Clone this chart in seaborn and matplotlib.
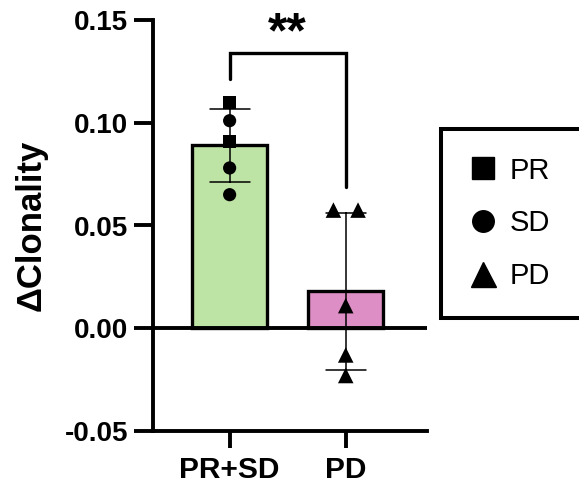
import matplotlib
matplotlib.use("Agg")
import matplotlib.pyplot as plt
from matplotlib.lines import Line2D
import seaborn as sns
import pandas as pd
import numpy as np

# ---- data ----
groups = ["PR+SD", "PD"]
pr_sd_values = [0.110, 0.101, 0.091, 0.078, 0.065]
pr_sd_response = ["PR", "SD", "PR", "SD", "SD"]
pd_values = [0.0575, 0.0575, 0.011, -0.013, -0.023]
pd_response = ["PD", "PD", "PD", "PD", "PD"]
legend_labels = ["PR", "SD", "PD"]
yticks = [-0.05, 0.00, 0.05, 0.10, 0.15]
sig_label = "**"

# ---- layout / style ----
bar_colors = ["#bde3a5", "#dd8ec4"]
marker_map = {"PR": "s", "SD": "o", "PD": "^"}
marker_area = {"PR": 85, "SD": 90, "PD": 125}
legend_msize = {"PR": 15.5, "SD": 15.5, "PD": 18}
jitter = [0, 0, 0, 0, 0, -0.106, 0.106, 0, 0, 0]

sns.set_theme(style="white")
plt.rcParams["font.family"] = ["Liberation Sans", "DejaVu Sans"]
plt.rcParams["axes.unicode_minus"] = False
for key in ["text.color", "axes.labelcolor", "xtick.color", "ytick.color"]:
    plt.rcParams[key] = "black"

df = pd.DataFrame({
    "group": [groups[0]] * len(pr_sd_values) + [groups[1]] * len(pd_values),
    "value": pr_sd_values + pd_values,
    "response": pr_sd_response + pd_response,
})
df["xpos"] = df["group"].map({g: i for i, g in enumerate(groups)}) + np.array(jitter)

fig = plt.figure(figsize=(5.79, 4.83), dpi=100)
ax = fig.add_axes([153 / 579, 52 / 483, 274 / 579, 411 / 483])

sns.barplot(data=df, x="group", y="value", hue="group", order=groups,
            hue_order=groups, palette=bar_colors, legend=False, saturation=1,
            errorbar="sd", capsize=0.345, width=0.645,
            err_kws={"linewidth": 1.1, "color": "black"},
            edgecolor="black", linewidth=2.4, ax=ax)

for resp, sub in df.groupby("response"):
    sns.scatterplot(x=sub["xpos"], y=sub["value"], marker=marker_map[resp],
                    s=marker_area[resp], color="black", edgecolor="none",
                    linewidth=0, ax=ax, zorder=5, legend=False)

ax.axhline(0, color="black", lw=2.8, zorder=4)

ax.set_ylim(-0.05, 0.15)
ax.set_xlim(-0.66, 1.70)
ax.set_yticks(yticks)
ax.set_yticklabels([f"{t:.2f}" for t in yticks], fontsize=20, fontweight="bold")
ax.set_xticks(range(len(groups)))
ax.set_xticklabels(groups, fontsize=21.5, fontweight="bold")
ax.set_xlabel("")
ax.set_ylabel("ΔClonality", fontsize=25, fontweight="bold", labelpad=12)

for side in ["top", "right"]:
    ax.spines[side].set_visible(False)
for side in ["left", "bottom"]:
    ax.spines[side].set_linewidth(2.8)
    ax.spines[side].set_color("black")
ax.tick_params(axis="y", length=14, width=2.8, color="black", pad=4, left=True)
ax.tick_params(axis="x", length=12, width=2.8, color="black", pad=6, bottom=True)

# significance bracket, derived from data
g1 = np.array(pr_sd_values)
g2 = np.array(pd_values)
top = max(g1.max(), g2.max()) + 0.024
ax.plot([0, 0, 1, 1], [g1.max() + 0.0115, top, top, g2.max() + 0.0113],
        color="black", lw=2.4, clip_on=False, solid_joinstyle="miter")
ax.text(0.5, top + 0.0027, sig_label, ha="center", va="baseline",
        fontsize=36, fontweight="bold", color="black", clip_on=False)

handles = [Line2D([], [], linestyle="none", marker=marker_map[l], color="black",
                  markersize=legend_msize[l], label=l) for l in legend_labels]
leg_top = 1 - 129 / 483
leg_h = (312 - 129) / 483
leg = fig.legend(handles=handles, loc="upper left", mode="expand",
                 bbox_to_anchor=(441 / 579, leg_top - leg_h, 0.3, leg_h),
                 frameon=True, fancybox=False, framealpha=1,
                 fontsize=21, borderpad=0.95, labelspacing=0.85,
                 handlelength=1.0, handletextpad=0.4, borderaxespad=0)
leg.get_frame().set_edgecolor("black")
leg.get_frame().set_linewidth(2.9)

fig.savefig("out.png", dpi=100)
